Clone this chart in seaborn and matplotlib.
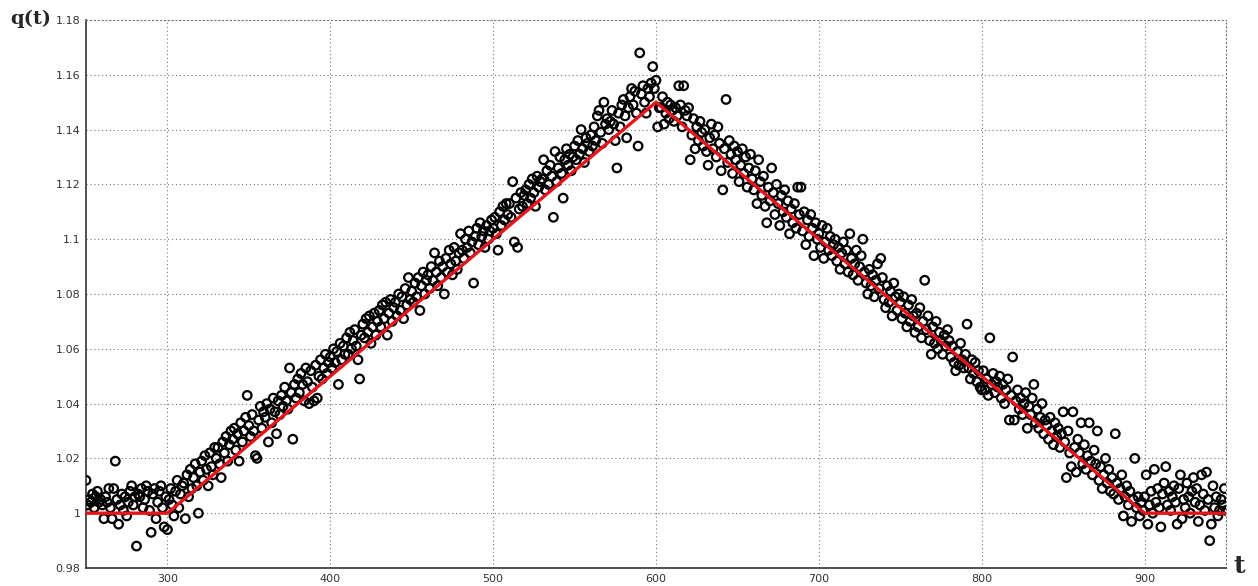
import numpy as np
import pandas as pd
import matplotlib
matplotlib.use("Agg")
import matplotlib.pyplot as plt
import seaborn as sns

# Measured q(t), one sample per time step, split by regime.
head_start = 250   # flat part before the ramp
head_q = [
    1.012, 1.003, 1.005, 1.004, 1.007, 1.002, 1.006, 1.008, 1.004, 1.005,
    1.003, 0.998, 1.006, 1.004, 1.009, 1.002, 0.998, 1.009, 1.019, 1.005,
    0.996, 1.003, 1.007, 1.001, 1.006, 0.999, 1.004, 1.008, 1.010, 1.003,
    1.006, 0.988, 1.007, 1.006, 1.009, 1.002, 1.005, 1.010, 1.008, 1.001,
    0.993, 1.007, 1.009, 0.998, 1.004, 1.008, 1.010, 1.002, 0.995, 1.006,
]

rise_start = 300   # rising ramp
rise_q = [
    0.994, 1.005, 1.009, 1.003, 0.999, 1.008, 1.012, 1.002, 1.007, 1.010,
    1.011, 0.998, 1.014, 1.006, 1.016, 1.009, 1.013, 1.018, 1.010, 1.000,
    1.015, 1.019, 1.012, 1.021, 1.016, 1.010, 1.022, 1.017, 1.014, 1.024,
    1.020, 1.024, 1.018, 1.013, 1.026, 1.022, 1.028, 1.019, 1.025, 1.030,
    1.027, 1.031, 1.023, 1.029, 1.019, 1.033, 1.026, 1.030, 1.035, 1.043,
    1.032, 1.028, 1.036, 1.030, 1.021, 1.020, 1.034, 1.039, 1.031, 1.037,
    1.035, 1.040, 1.026, 1.038, 1.033, 1.042, 1.037, 1.029, 1.041, 1.036,
    1.043, 1.039, 1.046, 1.041, 1.038, 1.053, 1.044, 1.027, 1.047, 1.042,
    1.049, 1.044, 1.051, 1.047, 1.041, 1.053, 1.048, 1.040, 1.052, 1.046,
    1.041, 1.054, 1.042, 1.050, 1.056, 1.049, 1.053, 1.058, 1.051, 1.055,
    1.057, 1.053, 1.060, 1.055, 1.059, 1.047, 1.062, 1.056, 1.061, 1.058,
    1.064, 1.058, 1.066, 1.060, 1.063, 1.067, 1.061, 1.056, 1.049, 1.065,
    1.069, 1.064, 1.071, 1.066, 1.072, 1.062, 1.068, 1.073, 1.065, 1.070,
    1.074, 1.068, 1.076, 1.071, 1.077, 1.065, 1.073, 1.078, 1.070, 1.075,
    1.077, 1.072, 1.080, 1.074, 1.079, 1.071, 1.082, 1.076, 1.086, 1.078,
    1.081, 1.077, 1.084, 1.079, 1.086, 1.074, 1.083, 1.088, 1.080, 1.085,
    1.087, 1.082, 1.090, 1.085, 1.095, 1.088, 1.083, 1.092, 1.086, 1.090,
    1.080, 1.093, 1.088, 1.096, 1.091, 1.087, 1.097, 1.092, 1.089, 1.095,
    1.102, 1.096, 1.093, 1.100, 1.097, 1.103, 1.095, 1.099, 1.084, 1.101,
    1.104, 1.098, 1.106, 1.101, 1.103, 1.097, 1.105, 1.100, 1.103, 1.107,
    1.104, 1.108, 1.102, 1.096, 1.110, 1.105, 1.112, 1.107, 1.113, 1.109,
    1.113, 1.108, 1.121, 1.099, 1.115, 1.097, 1.111, 1.117, 1.112, 1.116,
    1.118, 1.113, 1.120, 1.115, 1.122, 1.117, 1.112, 1.123, 1.119, 1.121,
    1.122, 1.129, 1.118, 1.125, 1.120, 1.127, 1.123, 1.108, 1.132, 1.121,
    1.126, 1.130, 1.124, 1.115, 1.129, 1.133, 1.127, 1.131, 1.125, 1.130,
    1.134, 1.129, 1.136, 1.131, 1.140, 1.133, 1.128, 1.137, 1.135, 1.132,
    1.138, 1.134, 1.141, 1.136, 1.145, 1.147, 1.139, 1.135, 1.150, 1.142,
    1.144, 1.140, 1.143, 1.147, 1.142, 1.136, 1.126, 1.146, 1.141, 1.149,
    1.151, 1.145, 1.137, 1.148, 1.152, 1.155, 1.149, 1.154, 1.146, 1.134,
    1.168, 1.153, 1.156, 1.150, 1.146, 1.155, 1.152, 1.157, 1.163, 1.155,
]

fall_start = 600   # falling ramp
fall_q = [
    1.158, 1.141, 1.148, 1.148, 1.152, 1.142, 1.146, 1.150, 1.144, 1.149,
    1.147, 1.143, 1.148, 1.145, 1.156, 1.149, 1.141, 1.156, 1.147, 1.145,
    1.148, 1.129, 1.138, 1.144, 1.133, 1.141, 1.136, 1.143, 1.139, 1.134,
    1.140, 1.132, 1.127, 1.137, 1.142, 1.133, 1.138, 1.130, 1.141, 1.135,
    1.125, 1.118, 1.133, 1.151, 1.128, 1.136, 1.131, 1.124, 1.134, 1.129,
    1.132, 1.121, 1.127, 1.133, 1.124, 1.130, 1.119, 1.126, 1.131, 1.122,
    1.118, 1.125, 1.113, 1.129, 1.121, 1.116, 1.123, 1.112, 1.106, 1.119,
    1.114, 1.126, 1.117, 1.109, 1.120, 1.113, 1.105, 1.116, 1.110, 1.118,
    1.108, 1.114, 1.102, 1.111, 1.106, 1.113, 1.104, 1.119, 1.109, 1.119,
    1.103, 1.110, 1.098, 1.107, 1.101, 1.109, 1.104, 1.094, 1.106, 1.100,
    1.102, 1.097, 1.105, 1.093, 1.099, 1.104, 1.096, 1.101, 1.094, 1.098,
    1.100, 1.092, 1.097, 1.089, 1.095, 1.099, 1.091, 1.096, 1.088, 1.102,
    1.093, 1.087, 1.091, 1.096, 1.085, 1.090, 1.094, 1.100, 1.088, 1.084,
    1.080, 1.089, 1.083, 1.087, 1.079, 1.085, 1.091, 1.082, 1.093, 1.086,
    1.078, 1.075, 1.083, 1.077, 1.081, 1.072, 1.084, 1.079, 1.074, 1.080,
    1.077, 1.071, 1.079, 1.073, 1.068, 1.076, 1.070, 1.078, 1.072, 1.066,
    1.073, 1.068, 1.075, 1.064, 1.070, 1.085, 1.067, 1.072, 1.063, 1.058,
    1.068, 1.062, 1.070, 1.060, 1.066, 1.063, 1.058, 1.065, 1.061, 1.067,
    1.063, 1.057, 1.061, 1.055, 1.052, 1.059, 1.054, 1.062, 1.056, 1.053,
    1.058, 1.069, 1.053, 1.049, 1.056, 1.051, 1.055, 1.048, 1.052, 1.046,
    1.045, 1.052, 1.045, 1.049, 1.043, 1.064, 1.047, 1.051, 1.044, 1.048,
    1.046, 1.050, 1.042, 1.047, 1.040, 1.045, 1.049, 1.034, 1.043, 1.057,
    1.034, 1.041, 1.045, 1.038, 1.042, 1.036, 1.040, 1.044, 1.031, 1.039,
    1.036, 1.042, 1.047, 1.033, 1.038, 1.031, 1.035, 1.040, 1.029, 1.034,
    1.032, 1.027, 1.035, 1.030, 1.025, 1.033, 1.028, 1.031, 1.024, 1.029,
    1.037, 1.026, 1.013, 1.030, 1.022, 1.017, 1.037, 1.024, 1.015, 1.027,
    1.022, 1.033, 1.018, 1.025, 1.016, 1.021, 1.033, 1.019, 1.014, 1.023,
    1.018, 1.030, 1.012, 1.017, 1.009, 1.014, 1.020, 1.011, 1.016, 1.008,
    1.013, 1.007, 1.029, 1.011, 1.005, 1.009, 1.014, 0.999, 1.006, 1.010,
    1.003, 1.008, 0.997, 1.005, 1.020, 1.002, 1.006, 0.999, 1.004, 1.001,
]

tail_start = 900   # flat part after the ramp
tail_q = [
    1.006, 1.014, 0.996, 1.003, 1.008, 1.000, 1.016, 1.004, 1.009, 1.002,
    0.995, 1.007, 1.011, 1.017, 1.003, 1.008, 1.001, 1.006, 1.010, 1.004,
    0.996, 1.009, 1.014, 0.998, 1.005, 1.002, 1.011, 1.006, 1.000, 1.008,
    1.013, 1.004, 1.009, 0.997, 1.003, 1.014, 1.007, 1.001, 1.015, 1.005,
    0.990, 0.996, 1.010, 1.002, 1.006, 0.999, 1.001, 1.005, 1.003, 1.009,
    1.001,
]

# Model profile (breakpoints of the piecewise-linear q(t))
model_t = [250, 300, 600, 900, 950]
model_q = [1.0, 1.0, 1.15, 1.0, 1.0]

y_ticks = [0.98, 1.0, 1.02, 1.04, 1.06, 1.08, 1.1, 1.12, 1.14, 1.16, 1.18]
x_ticks = [300, 400, 500, 600, 700, 800, 900]

segments = [(head_start, head_q), (rise_start, rise_q),
            (fall_start, fall_q), (tail_start, tail_q)]
samples = pd.concat(
    [pd.DataFrame({"t": start + np.arange(len(vals)), "q": vals})
     for start, vals in segments],
    ignore_index=True,
)
model = pd.DataFrame({"t": model_t, "q": model_q})

sns.set_style("white")
plt.rcParams["font.family"] = ["DejaVu Sans"]

fig = plt.figure(figsize=(12.58, 5.86), dpi=100)
ax = fig.add_axes([86 / 1258, 1 - 568 / 586, (1226 - 86) / 1258, (568 - 20) / 586])

sns.scatterplot(data=samples, x="t", y="q", ax=ax, marker="o",
                facecolors="none", edgecolor="black", linewidth=1.6,
                s=38, zorder=3, legend=False)
sns.lineplot(data=model, x="t", y="q", ax=ax, color="#e8141b",
             linewidth=2.4, zorder=4, legend=False)

ax.set_xlim(250, 950)
ax.set_ylim(0.98, 1.18)
ax.set_xticks(x_ticks)
ax.set_yticks(y_ticks)
ax.set_yticklabels([f"{v:g}" for v in y_ticks])
ax.set_xlabel("")
ax.set_ylabel("")

ax.grid(True, linestyle=(0, (1, 2.5)), color="#777777", linewidth=0.8)
ax.tick_params(direction="in", length=5, width=1.0, color="#333333",
               labelsize=8, labelcolor="#333333", pad=4)

for side in ("left", "bottom"):
    ax.spines[side].set_color("#333333")
    ax.spines[side].set_linewidth(1.2)
for side in ("top", "right"):
    ax.spines[side].set_visible(True)
    ax.spines[side].set_color("#777777")
    ax.spines[side].set_linewidth(0.8)
    ax.spines[side].set_linestyle((0, (1, 2.5)))

fig.text(10 / 1258, 1 - 19 / 586, "q(t)", fontsize=14, fontweight="bold",
         family="DejaVu Serif", ha="left", va="center")
fig.text(1233 / 1258, 1 - 566 / 586, "t", fontsize=18, fontweight="bold",
         family="DejaVu Serif", ha="left", va="center")

fig.savefig("out.png", dpi=100, facecolor="white")
